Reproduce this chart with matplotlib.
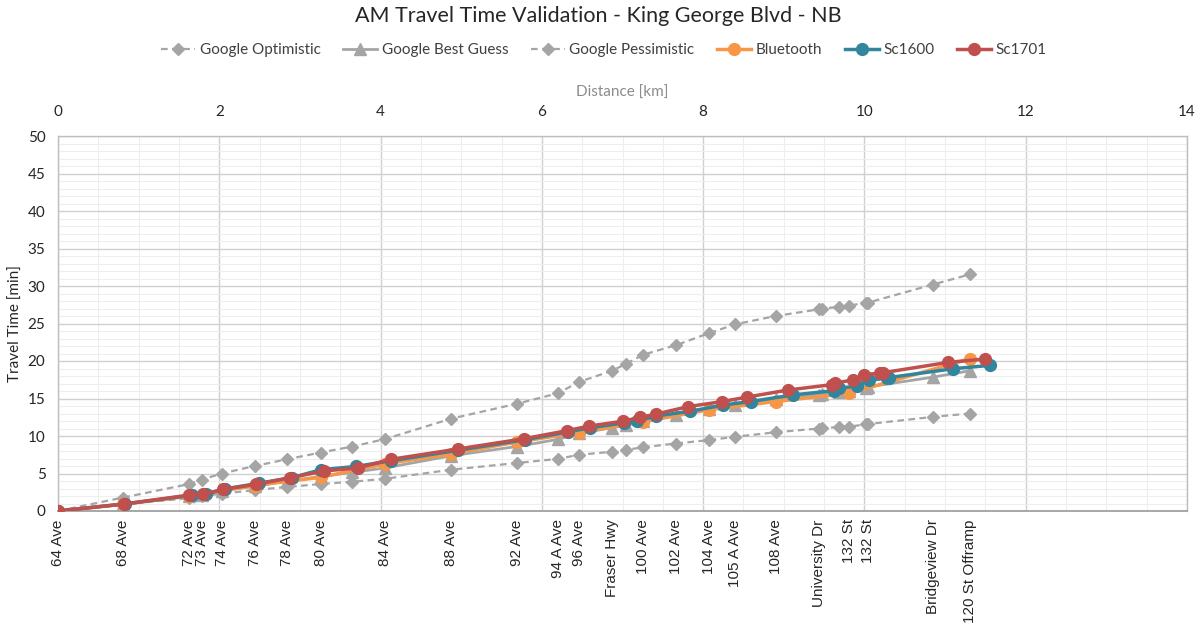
import matplotlib
matplotlib.use('Agg')
import matplotlib.pyplot as plt
from matplotlib.ticker import MultipleLocator

plt.rcParams['font.family'] = ['Lato', 'DejaVu Sans']

# ---------------- data ----------------
google_x = [0, 0.81, 1.63, 1.79, 2.03, 2.44, 2.84, 3.26, 3.65, 4.06, 4.87, 5.69, 6.20, 6.46,
            6.87, 7.04, 7.26, 7.66, 8.07, 8.40, 8.90, 9.44, 9.47, 9.69, 9.81, 10.02, 10.05,
            10.85, 11.31]
google_opt = [0, 0.9, 1.7, 2.0, 2.3, 2.8, 3.2, 3.6, 3.9, 4.3, 5.5, 6.4, 6.95, 7.5, 7.9, 8.15,
              8.5, 9.0, 9.45, 9.9, 10.5, 11.0, 11.05, 11.2, 11.25, 11.55, 11.6, 12.55, 13.0]
google_best = [0, 0.9, 2.0, 2.2, 2.7, 3.3, 4.0, 4.6, 5.15, 5.75, 7.35, 8.6, 9.55, 10.35, 11.1,
               11.45, 11.95, 12.8, 13.6, 14.2, 14.9, 15.5, 15.55, 15.9, 16.05, 16.45, 16.55,
               17.85, 18.7]
google_pess = [0, 1.8, 3.6, 4.2, 5.0, 6.0, 6.9, 7.8, 8.6, 9.6, 12.3, 14.3, 15.7, 17.2, 18.7,
               19.6, 20.85, 22.1, 23.7, 24.9, 26.0, 26.9, 26.95, 27.25, 27.4, 27.75, 27.8,
               30.2, 31.55]

bt_x = [0, 0.81, 1.63, 2.44, 3.26, 4.06, 4.87, 5.69, 6.46, 7.26, 8.07, 8.90, 9.81, 11.31]
bt_y = [0, 0.9, 2.0, 3.4, 4.5, 6.3, 7.6, 9.2, 10.45, 11.9, 13.5, 14.6, 15.7, 20.3]

sc1600_x = [0, 0.83, 1.66, 1.83, 2.07, 2.49, 2.90, 3.26, 3.70, 4.13, 4.96, 5.79, 6.32, 6.60,
            7.02, 7.18, 7.42, 7.84, 8.25, 8.59, 9.11, 9.62, 9.68, 9.91, 10.06, 10.28, 10.31,
            11.10, 11.56]
sc1600_y = [0, 0.95, 2.1, 2.25, 2.95, 3.7, 4.45, 5.5, 5.95, 6.7, 8.1, 9.5, 10.55, 11.1, 11.75,
            12.0, 12.67, 13.3, 14.13, 14.6, 15.47, 16.04, 16.36, 16.67, 17.47, 17.69, 17.8,
            18.97, 19.42]

sc1701_x = [0, 0.82, 1.63, 1.80, 2.05, 2.46, 2.88, 3.30, 3.72, 4.13, 4.96, 5.78, 6.31, 6.59,
            7.00, 7.22, 7.42, 7.81, 8.23, 8.55, 9.05, 9.60, 9.63, 9.86, 9.99, 10.19, 10.23,
            11.04, 11.50]
sc1701_y = [0, 0.93, 2.13, 2.22, 2.89, 3.56, 4.44, 5.33, 5.75, 6.89, 8.27, 9.64, 10.71, 11.33,
            11.96, 12.49, 12.93, 13.91, 14.58, 15.2, 16.13, 16.85, 17.05, 17.47, 18.2, 18.36,
            18.44, 19.82, 20.27]

street_pos = [0, 0.81, 1.63, 1.79, 2.03, 2.44, 2.84, 3.26, 4.06, 4.87, 5.69, 6.20, 6.46, 6.87,
              7.26, 7.66, 8.07, 8.40, 8.90, 9.44, 9.81, 10.05, 10.85, 11.31]
street_labels = ['64 Ave', '68 Ave', '72 Ave', '73 Ave', '74 Ave', '76 Ave', '78 Ave', '80 Ave',
                 '84 Ave', '88 Ave', '92 Ave', '94 A Ave', '96 Ave', 'Fraser Hwy', '100 Ave',
                 '102 Ave', '104 Ave', '105 A Ave', '108 Ave', 'University Dr', '132 St',
                 '132 St', 'Bridgeview Dr', '120 St Offramp']

# ---------------- style ----------------
GREY = '#A5A5A5'
ORANGE = '#F79646'
TEAL = '#31859C'
RED = '#C0504D'

fig = plt.figure(figsize=(11.96, 6.26), dpi=100)
ax = fig.add_axes([58 / 1196, 1 - 511 / 626, (1187 - 58) / 1196, (511 - 136) / 626])

ax.plot(google_x, google_opt, color=GREY, lw=1.6, ls=(0, (3, 2)), marker='D', ms=6,
        mfc=GREY, mec=GREY, label='Google Optimistic', zorder=3)
ax.plot(google_x, google_best, color=GREY, lw=2.0, ls='-', marker='^', ms=8,
        mfc=GREY, mec=GREY, label='Google Best Guess', zorder=3)
ax.plot(google_x, google_pess, color=GREY, lw=1.6, ls=(0, (3, 2)), marker='D', ms=6,
        mfc=GREY, mec=GREY, label='Google Pessimistic', zorder=3)
ax.plot(bt_x, bt_y, color=ORANGE, lw=2.5, marker='o', ms=8.5, label='Bluetooth', zorder=4)
ax.plot(sc1600_x, sc1600_y, color=TEAL, lw=2.5, marker='o', ms=8.5, label='Sc1600', zorder=5)
ax.plot(sc1701_x, sc1701_y, color=RED, lw=2.5, marker='o', ms=8.5, label='Sc1701', zorder=6)

ax.set_xlim(0, 14)
ax.set_ylim(0, 50)

# grid
ax.xaxis.set_major_locator(MultipleLocator(2))
ax.xaxis.set_minor_locator(MultipleLocator(0.5))
ax.yaxis.set_major_locator(MultipleLocator(5))
ax.yaxis.set_minor_locator(MultipleLocator(1))
ax.grid(which='major', color='#D0D0D0', lw=1.0, zorder=0)
ax.grid(which='minor', color='#EEEEEE', lw=0.8, zorder=0)
ax.set_axisbelow(True)

for s in ax.spines.values():
    s.set_color('#BFBFBF')
    s.set_linewidth(1.0)
ax.spines['bottom'].set_color('#A0A0A0')
ax.spines['bottom'].set_linewidth(1.3)

# top distance axis
ax.xaxis.set_ticks_position('top')
ax.xaxis.set_label_position('top')
ax.tick_params(axis='x', which='both', length=0, pad=12, labelsize=11, labelcolor='#262626')
ax.set_xlabel('Distance [km]', color='#8C8C8C', fontsize=11, labelpad=6)

ax.tick_params(axis='y', which='both', length=0, pad=9, labelsize=11, labelcolor='#262626')
ax.set_ylabel('Travel Time [min]', color='#262626', fontsize=11)
ax.yaxis.set_label_coords(-0.031, 0.5)

# bottom street axis
sec = ax.secondary_xaxis('bottom')
sec.set_xticks(street_pos)
sec.set_xticklabels(street_labels, rotation=90, fontsize=11, color='#262626',
                    family=['Liberation Sans', 'DejaVu Sans'])
sec.tick_params(length=0, pad=6)
sec.spines['bottom'].set_visible(False)

fig.suptitle('AM Travel Time Validation - King George Blvd - NB', y=0.99, fontsize=15.5,
             color='#262626')

handles, labels = ax.get_legend_handles_labels()
fig.legend(handles, labels, loc='center', bbox_to_anchor=(0.505, 1 - 50 / 626), ncol=6,
           frameon=False, fontsize=11, handlelength=2.2, columnspacing=1.5, handletextpad=0.3,
           labelcolor='#404040', numpoints=1)

fig.savefig('out.png', dpi=100)
